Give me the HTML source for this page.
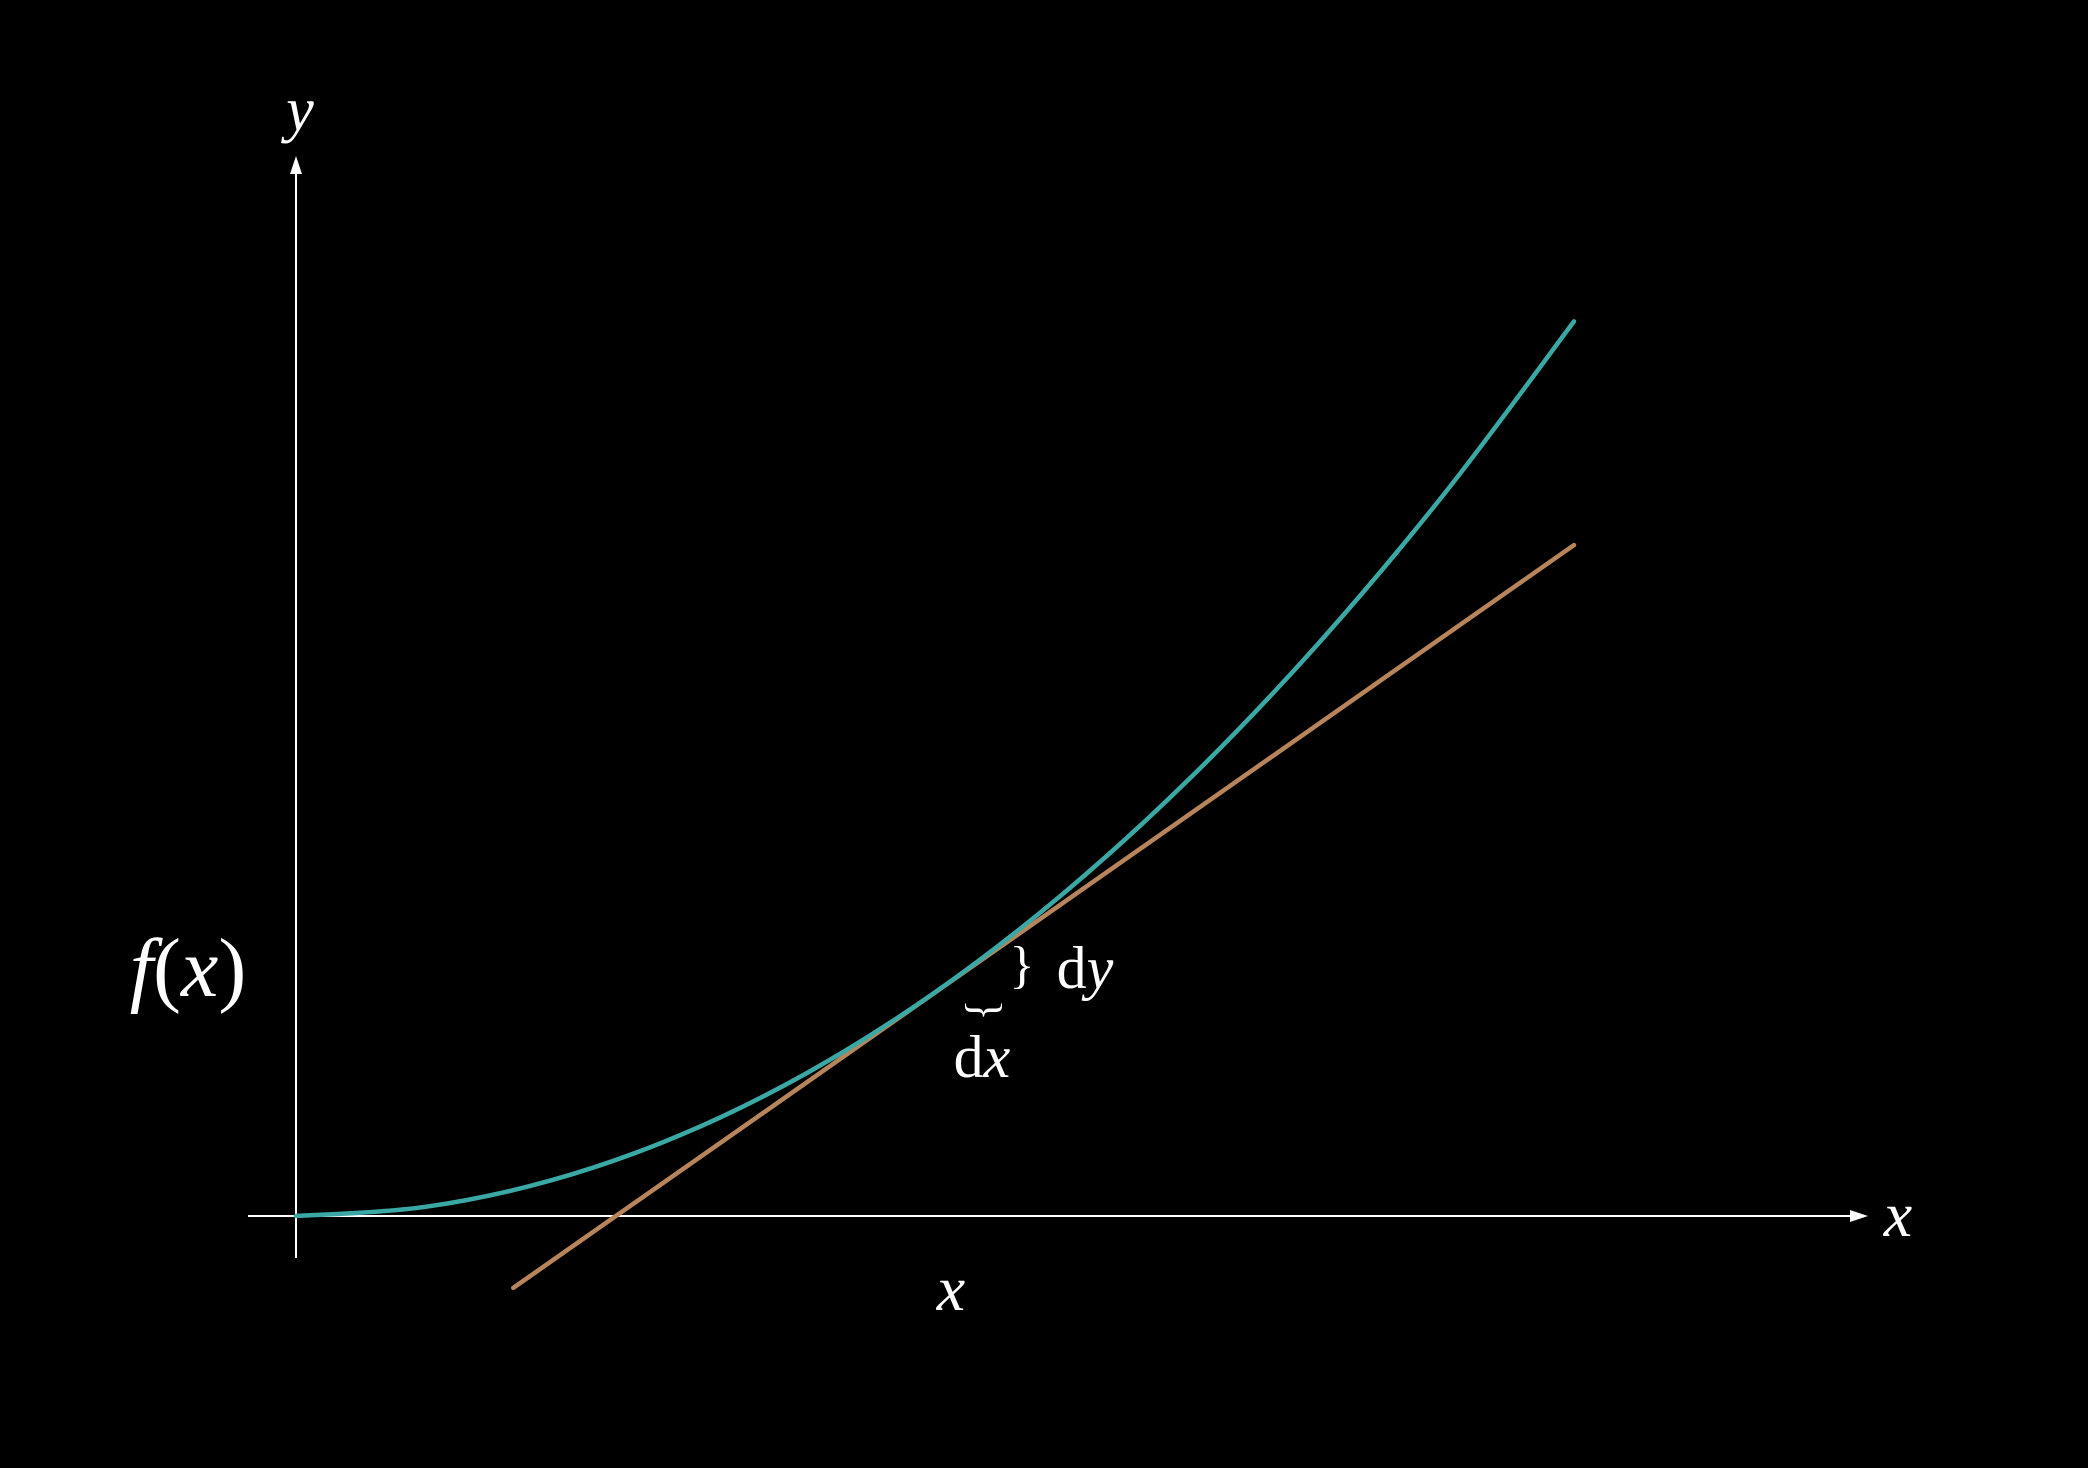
<!DOCTYPE html>
<html><head><meta charset="utf-8"><style>
html,body{margin:0;padding:0;background:#000;}
svg{display:block;}
text{fill:#fff;font-family:"Liberation Serif",serif;}
</style></head><body>
<svg id="chart" width="2088" height="1468" viewBox="0 0 2088 1468" xmlns="http://www.w3.org/2000/svg">
<rect width="2088" height="1468" fill="#000"/>
<g id="axes">
  <line x1="248" y1="1216" x2="1852" y2="1216" stroke="#fff" stroke-width="2"/>
  <polygon points="1868,1216 1850,1210 1850,1222" fill="#fff"/>
  <line x1="296" y1="1258" x2="296" y2="172" stroke="#fff" stroke-width="2"/>
  <polygon points="296,156 290,174 302,174" fill="#fff"/>
</g>
<g id="series"></g>
<text x="300" y="130" font-size="62" font-style="italic" text-anchor="middle">y</text>
<text x="1898" y="1236" font-size="64" font-style="italic" text-anchor="middle">x</text>
<text x="188" y="996" font-size="84" text-anchor="middle"><tspan font-style="italic">f</tspan>(<tspan font-style="italic">x</tspan>)</text>
<text x="951" y="1310" font-size="64" font-style="italic" text-anchor="middle">x</text>
<text x="1022" y="982" font-size="52" text-anchor="middle">}</text>
<text x="1085" y="988" font-size="60" text-anchor="middle">d<tspan font-style="italic">y</tspan></text>
<text x="971" y="1010" font-size="44" text-anchor="middle" transform="rotate(90 971 1010)">}</text>
<text x="982" y="1077" font-size="60" text-anchor="middle">d<tspan font-style="italic">x</tspan></text>
</svg>
<script>
const curveX = [0,1,2,3,4,5,6,7,8,9,10];
const curveY = [0,0.07,0.28,0.63,1.12,1.75,2.52,3.43,4.48,5.67,7.0];
const tangentX = [1.70,10];
const tangentY = [-0.5625,5.25];
const ox=296, oy=1216, unit=127.8;
function sx(v){return ox+v*unit;}
function sy(v){return oy-v*unit;}
const g=document.getElementById('series');
const NS='http://www.w3.org/2000/svg';
function smoothPath(xs,ys){
  const p=xs.map((x,i)=>[sx(x),sy(ys[i])]);
  let d='M'+p[0][0]+','+p[0][1];
  for(let i=0;i<p.length-1;i++){
    const p0=p[i-1]||p[i],p1=p[i],p2=p[i+1],p3=p[i+2]||p2;
    const c1=[p1[0]+(p2[0]-p0[0])/6,p1[1]+(p2[1]-p0[1])/6];
    const c2=[p2[0]-(p3[0]-p1[0])/6,p2[1]-(p3[1]-p1[1])/6];
    d+=' C'+c1+' '+c2+' '+p2;
  }
  return d;
}
const tl=document.createElementNS(NS,'line');
tl.setAttribute('x1',sx(tangentX[0]));tl.setAttribute('y1',sy(tangentY[0]));
tl.setAttribute('x2',sx(tangentX[1]));tl.setAttribute('y2',sy(tangentY[1]));
tl.setAttribute('stroke','#b8845a');tl.setAttribute('stroke-width','4.5');tl.setAttribute('stroke-linecap','round');


g.appendChild(tl);
const cp=document.createElementNS(NS,'path');
cp.setAttribute('d',smoothPath(curveX,curveY));
cp.setAttribute('fill','none');cp.setAttribute('stroke','#3aa8a4');cp.setAttribute('stroke-width','4.5');cp.setAttribute('stroke-linecap','round');


g.appendChild(cp);
</script>
</body></html>
